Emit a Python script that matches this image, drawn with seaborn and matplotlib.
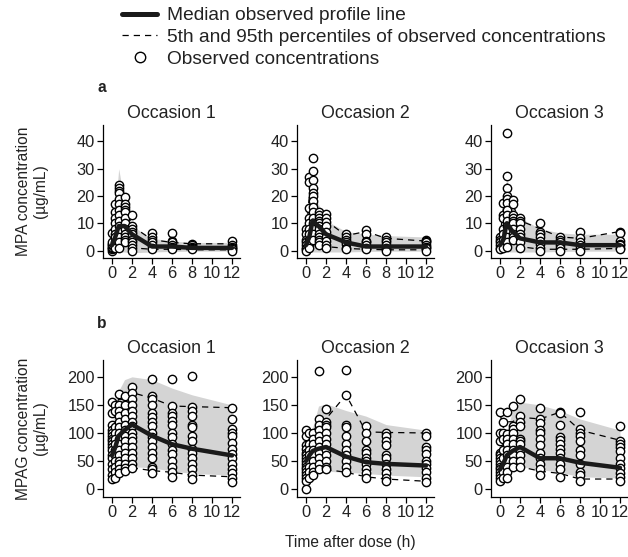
import numpy as np
import pandas as pd
import matplotlib
matplotlib.use("Agg")
import matplotlib.pyplot as plt
from matplotlib.lines import Line2D
import seaborn as sns

sns.set_style("ticks")
plt.rcParams['font.family'] = ['Liberation Sans', 'DejaVu Sans']

times = [0, 0.33, 0.67, 1.25, 2, 4, 6, 8, 12]
occasions = ["Occasion 1", "Occasion 2", "Occasion 3"]
x_ticks = [0, 2, 4, 6, 8, 10, 12]

# ---------------- MPA (row a) observed concentrations per time ----------------
mpa_occ1_obs = [
    [0, 0.5, 1, 1.5, 2, 2.5, 3, 6.5],
    [17, 14, 12, 10, 8, 6, 5, 3, 2, 1],
    [24, 23, 22, 21, 19, 17, 15, 13, 11, 9, 7, 5, 3, 1],
    [19.5, 17, 16, 15, 14, 12, 10, 8, 6, 5, 4, 3],
    [13, 9, 8, 7, 6, 4, 3, 2, 1, 0],
    [6.5, 5, 4, 3, 2, 1, 0.5],
    [6.5, 3.5, 3, 2, 1.5, 1, 0.5],
    [2.5, 2, 1.5, 1, 0.5],
    [3.5, 2, 1.5, 1, 0.5, 0],
]
mpa_occ2_obs = [
    [8, 6, 4, 3, 2, 1, 0.5, 0],
    [27, 25, 15.5, 12, 10, 8, 6, 4, 3, 2, 1],
    [34, 29, 26, 23, 21, 20, 18, 16, 14, 12, 10, 8, 6, 4],
    [14, 13, 12, 11, 10, 9, 8, 6, 5, 4, 3, 2],
    [13.5, 12, 10.5, 9, 7, 5, 3.5, 2, 1],
    [6, 5, 4, 3, 2.5, 1, 0.5],
    [7.5, 6, 3.5, 3, 2, 1, 0.5],
    [5, 4, 3, 2, 1, 0.5, 0],
    [4, 3.5, 3, 2, 1.5, 1, 0],
]
mpa_occ3_obs = [
    [5, 4, 3, 2, 1, 0.5],
    [17.5, 13, 12, 8, 6, 4, 2, 1],
    [43, 27.5, 23, 20, 19, 17.5, 15, 13, 11, 9, 7, 5, 3, 1.5],
    [18.5, 17, 13, 12, 11, 10, 8, 6, 5, 4],
    [12, 11, 10, 8, 6, 5, 3, 1],
    [10, 7, 6, 5, 3.5, 2.5, 1, 0],
    [5, 4, 3, 2, 1, 0],
    [7, 4.5, 3, 2, 1, 0],
    [7, 6.5, 3.5, 2.5, 2, 1, 0.5],
]
mpa_median = [[2, 5, 9, 9, 6, 1.5, 1.5, 1, 1],
              [2, 5, 11, 9, 6, 3, 1.5, 1.5, 1.5],
              [2, 4, 10, 7, 4.5, 3, 3, 2, 2]]
mpa_p95 = [[3, 14, 22, 17, 9, 4, 3, 2.5, 2.5],
           [5, 20, 28, 13, 11, 5.5, 7, 4.5, 3.5],
           [5, 15, 25, 17, 11, 8, 5, 4.5, 7]]
mpa_p5 = [[0, 0.5, 2, 3, 1, 0.5, 0.5, 0.3, 0.3],
          [0, 1, 4, 2.5, 1.5, 0.8, 0.5, 0.3, 0.3],
          [0.3, 1, 2, 4, 1.5, 0.5, 0.5, 0.5, 0.8]]
mpa_band_hi = [[3, 15, 30, 18, 9, 4.5, 3.5, 3, 3],
               [4, 12, 22, 17, 11, 7, 6, 5.5, 5],
               [4, 12, 27, 17, 12, 8, 6.5, 6, 6]]
mpa_band_lo = [[0, -0.5, -0.5, -0.5, -0.8, -0.5, -0.3, -0.2, -0.2],
               [0, -0.5, -0.5, -0.5, -0.5, -0.5, -0.3, -0.2, -0.2],
               [0, -0.5, -0.5, -0.5, -0.5, -0.5, -0.3, -0.2, -0.2]]

# ---------------- MPAG (row b) observed concentrations per time ----------------
mpag_occ1_obs = [
    [155, 135, 115, 105, 100, 95, 90, 85, 80, 75, 70, 60, 55, 45, 35, 25, 18],
    [150, 140, 110, 100, 90, 80, 70, 60, 50, 40, 30, 20],
    [170, 150, 140, 130, 120, 110, 100, 90, 80, 70, 60, 50, 45, 35, 28],
    [165, 150, 135, 125, 115, 105, 95, 85, 75, 65, 55, 45, 38, 32],
    [182, 172, 160, 150, 140, 130, 120, 112, 100, 92, 85, 75, 65, 55, 45, 38],
    [197, 165, 160, 150, 135, 128, 120, 112, 100, 92, 85, 75, 65, 55, 40, 35, 28],
    [197, 148, 135, 130, 122, 115, 100, 92, 80, 70, 62, 50, 40, 30, 22],
    [202, 147, 140, 130, 115, 110, 95, 85, 72, 65, 55, 45, 35, 25, 18],
    [145, 125, 108, 100, 95, 82, 72, 62, 55, 45, 35, 28, 20, 13],
]
mpag_occ2_obs = [
    [105, 95, 78, 72, 65, 60, 55, 50, 45, 40, 35, 30, 25, 20, 15, 0],
    [100, 80, 70, 60, 50, 40, 30, 20],
    [100, 90, 80, 70, 60, 50, 40, 30, 25],
    [210, 125, 115, 105, 95, 85, 75, 65, 55, 45, 35],
    [142, 120, 115, 110, 100, 90, 80, 70, 60, 50, 40, 35],
    [213, 168, 115, 110, 95, 80, 70, 60, 50, 40, 30],
    [112, 100, 85, 70, 65, 55, 50, 45, 35, 28, 20],
    [100, 95, 85, 78, 60, 55, 45, 35, 28, 20, 15],
    [100, 95, 75, 70, 62, 50, 45, 38, 30, 20, 13],
]
mpag_occ3_obs = [
    [137, 100, 85, 65, 60, 55, 50, 45, 40, 35, 30, 25, 20, 15],
    [120, 100, 90, 70, 55, 40, 30, 20],
    [137, 98, 90, 80, 70, 60, 50, 40, 30, 20],
    [148, 112, 108, 100, 90, 80, 70, 60, 50, 40],
    [160, 130, 120, 112, 90, 85, 80, 70, 60, 50, 40],
    [145, 125, 118, 105, 100, 90, 78, 65, 55, 45, 35, 25],
    [138, 135, 115, 92, 88, 80, 72, 65, 55, 45, 35, 22],
    [138, 108, 100, 95, 85, 70, 60, 45, 30, 25, 15],
    [112, 85, 80, 75, 68, 55, 45, 38, 28, 22, 15],
]
mpag_median = [[60, 75, 95, 105, 115, 95, 80, 72, 60],
               [50, 60, 68, 72, 75, 58, 48, 45, 42],
               [35, 45, 60, 68, 75, 55, 55, 47, 38]]
mpag_p95 = [[140, 150, 160, 160, 172, 162, 148, 147, 145],
            [100, 95, 100, 120, 125, 168, 102, 101, 100],
            [135, 110, 120, 120, 128, 125, 137, 105, 87]]
mpag_p5 = [[20, 25, 30, 35, 38, 33, 30, 25, 22],
           [15, 20, 25, 30, 35, 30, 22, 18, 14],
           [15, 20, 25, 35, 40, 32, 28, 18, 18]]
mpag_band_hi = [[110, 150, 175, 195, 200, 195, 180, 168, 150],
                [75, 95, 110, 148, 152, 140, 130, 115, 105],
                [60, 80, 100, 140, 155, 150, 140, 125, 105]]
mpag_band_lo = [[20, 25, 30, 35, 40, 38, 32, 28, 25],
                [20, 25, 28, 30, 32, 30, 28, 25, 22],
                [20, 25, 30, 35, 40, 35, 30, 22, 20]]

rows = [
    dict(obs=[mpa_occ1_obs, mpa_occ2_obs, mpa_occ3_obs], med=mpa_median, p95=mpa_p95,
         p5=mpa_p5, hi=mpa_band_hi, lo=mpa_band_lo, ylim=(-2.7, 46),
         yticks=[0, 10, 20, 30, 40], top=125, bottom=258,
         ylabel="MPA concentration\n(\u00b5g/mL)", letter="a"),
    dict(obs=[mpag_occ1_obs, mpag_occ2_obs, mpag_occ3_obs], med=mpag_median, p95=mpag_p95,
         p5=mpag_p5, hi=mpag_band_hi, lo=mpag_band_lo, ylim=(-14, 230),
         yticks=[0, 50, 100, 150, 200], top=360, bottom=497,
         ylabel="MPAG concentration\n(\u00b5g/mL)", letter="b"),
]

W, H = 628, 557
fig = plt.figure(figsize=(W / 100, H / 100), dpi=100)
lefts = [103, 297, 491]
ax_w = 137
FS = 11.2

for r in rows:
    for j in range(3):
        ax = fig.add_axes([lefts[j] / W, 1 - r["bottom"] / H, ax_w / W,
                           (r["bottom"] - r["top"]) / H])
        obs_df = pd.DataFrame([(t, v) for t, vals in zip(times, r["obs"][j]) for v in vals],
                              columns=["time", "conc"])
        line_df = pd.DataFrame({"time": times, "med": r["med"][j],
                                "p95": r["p95"][j], "p5": r["p5"][j]})
        ax.fill_between(times, r["lo"][j], r["hi"][j], color="#d4d4d4", lw=0, zorder=1)
        for col in ["p95", "p5"]:
            sns.lineplot(data=line_df, x="time", y=col, ax=ax, color="black", lw=0.9,
                         dashes=False, linestyle=(0, (5, 4)), zorder=2)
        sns.scatterplot(data=obs_df, x="time", y="conc", ax=ax, s=36, marker="o",
                        facecolor="white", edgecolor="black", linewidth=1.0, zorder=3)
        sns.lineplot(data=line_df, x="time", y="med", ax=ax, color="#1a1a1a", lw=3.2,
                     zorder=4)
        ax.set_xlim(-0.9, 12.8)
        ax.set_ylim(*r["ylim"])
        ax.set_xticks(x_ticks)
        ax.set_yticks(r["yticks"])
        ax.set_xlabel("")
        ax.set_ylabel("")
        ax.set_title(occasions[j], fontsize=12.8, pad=5, color="#222222")
        sns.despine(ax=ax)
        ax.tick_params(axis="both", labelsize=11.8, length=4, width=0.9, pad=2,
                       colors="black", labelcolor="#222222")
        for s in ["left", "bottom"]:
            ax.spines[s].set_linewidth(0.9)
            ax.spines[s].set_color("black")
    yc = (r["top"] + r["bottom"]) / 2
    fig.text(32 / W, 1 - yc / H, r["ylabel"], rotation=90, ha="center", va="center",
             fontsize=FS, color="#222222", linespacing=1.15)
    fig.text(97 / W, 1 - (r["top"] - 37) / H, r["letter"], fontsize=FS, fontweight="bold",
             ha="left", va="center", color="#222222")

fig.text(350 / W, 1 - 543 / H, "Time after dose (h)", ha="center", va="center",
         fontsize=FS, color="#222222")

handles = [
    Line2D([], [], color="#1a1a1a", lw=3.6),
    Line2D([], [], color="black", lw=0.9, linestyle=(0, (5, 4))),
    Line2D([], [], color="none", marker="o", markersize=7.5, markerfacecolor="white",
           markeredgecolor="black", markeredgewidth=1.0),
]
labels = ["Median observed profile line",
          "5th and 95th percentiles of observed concentrations",
          "Observed concentrations"]
fig.legend(handles, labels, loc="upper left", bbox_to_anchor=(122 / W, 1 - 7 / H),
           frameon=False, fontsize=13.8, handlelength=1.85, handletextpad=0.5,
           labelspacing=0.22, borderpad=0, borderaxespad=0, labelcolor="#222222")

fig.savefig("out.png", dpi=100)
